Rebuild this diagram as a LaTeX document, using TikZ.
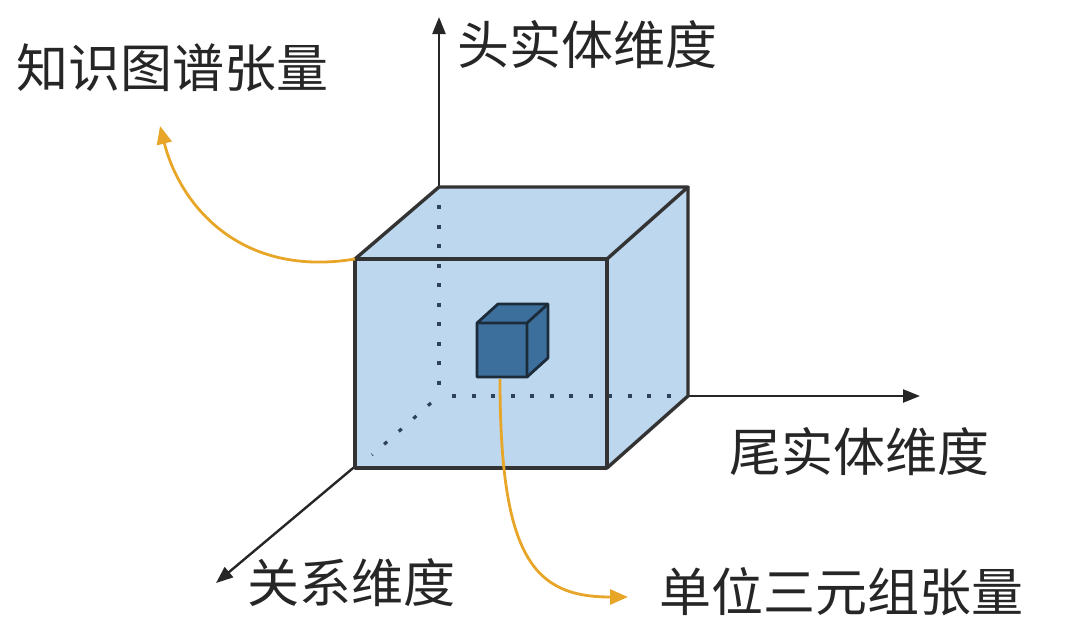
\documentclass[tikz,border=0pt]{standalone}
\usepackage{fontspec}
\newfontfamily\cjk{Noto Sans CJK SC}
\usetikzlibrary{arrows.meta}
\definecolor{cubefill}{HTML}{BDD7EE}
\definecolor{smallfill}{HTML}{3D6F9C}
\definecolor{smalledge}{HTML}{1C2B3A}
\definecolor{arrowor}{HTML}{E8A628}
\definecolor{dotcol}{HTML}{2E4258}
\begin{document}
\begin{tikzpicture}[x=1pt,y=-1pt,
  edge/.style={draw=black!80, line width=3.4pt, line join=round},
  axis/.style={draw=black!85, line width=2.4pt, -{Triangle[length=17pt,width=13pt]}},
  dots/.style={draw=dotcol, line width=3.2pt, dash pattern=on 4pt off 15.5pt},
  lab/.style={font=\cjk\fontsize{52}{52}\selectfont, text=black!85, inner sep=0pt, anchor=west},
  orangearrow/.style={draw=arrowor, line width=2.8pt, -{Triangle[length=18pt,width=15pt]}}]
\useasboundingbox (0,0) rectangle (1080,625);
% cube corners
\coordinate (F1) at (355,259);
\coordinate (F2) at (607,259);
\coordinate (F3) at (607,468);
\coordinate (F4) at (355,468);
\coordinate (B1) at (439,187);
\coordinate (B2) at (688,187);
\coordinate (B3) at (688,396);
\coordinate (O) at (439,396);
% axes ends
\coordinate (Ytip) at (439,17);
\coordinate (Xtip) at (920,396);
\coordinate (Ztip) at (216,583);
% axes
\draw[axis] (O) -- (Ytip);
\draw[axis] (O) -- (Xtip);
\draw[axis] (O) -- (Ztip);
% cube fill
\fill[cubefill] (F1) -- (B1) -- (B2) -- (B3) -- (F3) -- (F4) -- cycle;
% hidden axes (dotted)
\draw[dots] (439,205) -- (439,388);
\draw[dots] (452,396) -- (680,396);
\draw[dots] (431,403) -- (372,455);
% cube edges
\draw[edge] (F1) rectangle (F3);
\draw[edge] (F1) -- (B1) -- (B2) -- (F2);
\draw[edge] (B2) -- (B3) -- (F3);
% small cube
\coordinate (s1) at (477,323);
\coordinate (s2) at (527,323);
\coordinate (s3) at (527,377);
\coordinate (s4) at (477,377);
\coordinate (t1) at (498,304);
\coordinate (t2) at (548,304);
\coordinate (t3) at (548,358);
\filldraw[fill=smallfill, draw=smalledge, line width=2.8pt, line join=round]
  (s1) -- (t1) -- (t2) -- (t3) -- (s3) -- (s4) -- cycle;
\draw[smalledge, line width=2.8pt, line join=round] (s1) -- (s2) -- (t2) (s2) -- (s3);
\coordinate (sb) at (500,379);
% labels
\node[lab] (kg) at (16,68) {知识图谱张量};
\node[lab] (head) at (457,45) {头实体维度};
\node[lab] (tail) at (729,452) {尾实体维度};
\node[lab] (rel) at (247,583) {关系维度};
\node[lab] (unit) at (659,592) {单位三元组张量};
% orange arrows
\coordinate (kgtip) at (160,126);
\coordinate (unittip) at (628,597);
\draw[orangearrow] (F1) .. controls (240,278) and (180,205) .. (kgtip);
\draw[orangearrow] (sb) .. controls (500,560) and (535,597) .. (unittip);
\end{tikzpicture}
\end{document}
